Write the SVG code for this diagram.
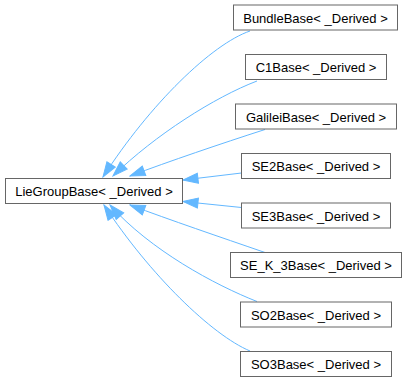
<svg xmlns="http://www.w3.org/2000/svg" width="407" height="382" viewBox="0 0 407 382">
  <style>
    .node rect { fill: #ffffff; stroke: #666666; stroke-width: 1; }
    .node text { font-family: "Liberation Sans", Arial, sans-serif; font-size: 13px; fill: #000000; text-anchor: middle; }
    .edge { fill: none; stroke: #63b8ff; stroke-width: 1; marker-end: url(#head); }
  </style>
  <defs>
    <marker id="head" markerUnits="userSpaceOnUse" markerWidth="17" markerHeight="12" viewBox="0 0 17 12" refX="16" refY="6" orient="auto">
      <path d="M1,1 L16,6 L1,11 z" fill="#63b8ff" stroke="#63b8ff" stroke-width="1"/>
    </marker>
  </defs>

  <!-- inheritance connectors, derived class to base -->
  <g id="edges">
    <path class="edge" d="M250,31 C212,44 150,104 103,177"/>
    <path class="edge" d="M257,81 C215,97 155,135 113,176"/>
    <path class="edge" d="M265,129.5 C220,144 170,161 130,176"/>
    <path class="edge" d="M241.5,173 L183,180"/>
    <path class="edge" d="M241.5,207.5 L183,201.5"/>
    <path class="edge" d="M265,252.5 C220,237 170,220 130,205"/>
    <path class="edge" d="M257,301.5 C215,285 150,250 110,205"/>
    <path class="edge" d="M250,351 C212,335 150,275 104,205"/>
  </g>

  <g id="LieGroupBase" class="node">
    <rect x="5.5" y="178.5" width="177" height="25"/>
    <text x="94" y="196">LieGroupBase&lt; _Derived &gt;</text>
  </g>
  <g id="BundleBase" class="node">
    <rect x="233.5" y="5" width="164" height="25"/>
    <text x="315.5" y="22.5">BundleBase&lt; _Derived &gt;</text>
  </g>
  <g id="C1Base" class="node">
    <rect x="245.5" y="54.5" width="141" height="25"/>
    <text x="316" y="72">C1Base&lt; _Derived &gt;</text>
  </g>
  <g id="GalileiBase" class="node">
    <rect x="235.5" y="104" width="161" height="25"/>
    <text x="316" y="121.5">GalileiBase&lt; _Derived &gt;</text>
  </g>
  <g id="SE2Base" class="node">
    <rect x="241.5" y="153.5" width="149" height="25"/>
    <text x="316" y="171">SE2Base&lt; _Derived &gt;</text>
  </g>
  <g id="SE3Base" class="node">
    <rect x="241.5" y="203" width="149" height="25"/>
    <text x="316" y="220.5">SE3Base&lt; _Derived &gt;</text>
  </g>
  <g id="SE_K_3Base" class="node">
    <rect x="230.5" y="252.5" width="171" height="25"/>
    <text x="316" y="270">SE_K_3Base&lt; _Derived &gt;</text>
  </g>
  <g id="SO2Base" class="node">
    <rect x="240.5" y="302" width="151" height="25"/>
    <text x="316" y="319.5">SO2Base&lt; _Derived &gt;</text>
  </g>
  <g id="SO3Base" class="node">
    <rect x="240.5" y="351.5" width="151" height="25"/>
    <text x="316" y="369">SO3Base&lt; _Derived &gt;</text>
  </g>
</svg>
